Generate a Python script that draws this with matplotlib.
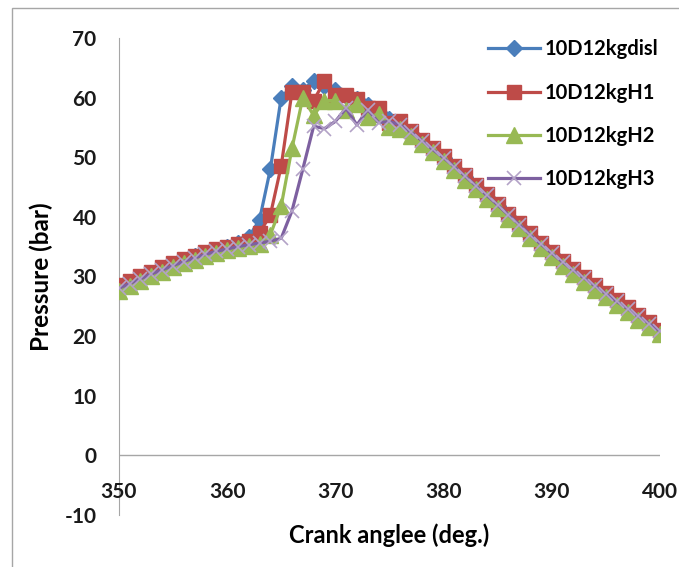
import matplotlib.pyplot as plt
import numpy as np

# crank angle (deg.)
angle = list(range(350, 401))

p_disl = [28.3, 29.0, 29.8, 30.6, 31.4, 32.1, 32.8, 33.4, 34.0, 34.5,
          35.0, 35.6, 36.6, 39.5, 48.0, 60.0, 62.0, 61.3, 62.8, 62.0,
          61.2, 60.3, 59.8, 58.8, 57.6, 56.4, 55.2, 54.0, 52.6, 51.2,
          49.8, 48.2, 46.6, 45.0, 43.4, 41.8, 40.1, 38.5, 36.8, 35.2,
          33.7, 32.2, 30.8, 29.5, 28.2, 26.9, 25.6, 24.4, 23.1, 21.9, 20.7]

p_h1 = [28.5, 29.2, 30.0, 30.8, 31.5, 32.2, 32.9, 33.5, 34.1, 34.6,
        35.0, 35.4, 36.0, 37.3, 40.3, 48.5, 61.0, 61.0, 59.5, 62.8,
        60.5, 60.5, 59.8, 58.3, 58.2, 55.8, 56.0, 54.4, 52.9, 51.6,
        50.2, 48.6, 47.0, 45.4, 43.8, 42.2, 40.5, 38.9, 37.2, 35.6,
        34.1, 32.6, 31.2, 29.9, 28.6, 27.3, 26.0, 24.8, 23.5, 22.3, 21.0]

p_h2 = [27.6, 28.4, 29.2, 30.0, 30.8, 31.5, 32.2, 32.8, 33.4, 33.9,
        34.4, 34.8, 35.1, 35.5, 37.0, 41.8, 51.5, 60.0, 57.0, 59.5,
        59.5, 58.0, 59.0, 56.8, 57.2, 55.0, 54.8, 53.6, 52.2, 50.8,
        49.4, 47.8, 46.2, 44.6, 43.0, 41.4, 39.7, 38.1, 36.4, 34.8,
        33.3, 31.8, 30.4, 29.1, 27.8, 26.5, 25.2, 24.0, 22.7, 21.5, 20.3]

p_h3 = [28.0, 28.8, 29.6, 30.4, 31.1, 31.8, 32.5, 33.1, 33.7, 34.2,
        34.6, 35.0, 35.3, 35.6, 35.9, 36.4, 41.0, 48.0, 55.2, 54.8,
        56.0, 58.2, 55.4, 58.0, 55.8, 56.0, 55.4, 54.2, 52.8, 51.3,
        49.9, 48.4, 46.8, 45.2, 43.6, 42.0, 40.3, 38.7, 37.0, 35.4,
        33.9, 32.4, 31.0, 29.7, 28.4, 27.1, 25.8, 24.6, 23.3, 22.1, 20.8]

labels = ["10D12kgdisl", "10D12kgH1", "10D12kgH2", "10D12kgH3"]

plt.rcParams['font.family'] = ['Lato', 'DejaVu Sans']
plt.rcParams['axes.unicode_minus'] = False

fig = plt.figure(figsize=(6.79, 5.67), dpi=100)
ax = fig.add_axes([0.175, 0.092, 0.797, 0.841])

# chart area border (left and top visible)
fig.add_artist(plt.Rectangle((12 / 679, -0.1), 1.2, 1 - 8 / 567 + 0.1,
                             transform=fig.transFigure, fill=False,
                             edgecolor='#a6a6a6', linewidth=1.0))

ax.plot(angle, p_disl, color='#4a7ebb', lw=2.3, marker='D', ms=8,
        label=labels[0], zorder=3)
ax.plot(angle, p_h1, color='#be4b48', lw=2.3, marker='s', ms=10,
        label=labels[1], zorder=4)
ax.plot(angle, p_h2, color='#98b954', lw=2.3, marker='^', ms=11,
        label=labels[2], zorder=5)
ax.plot(angle, p_h3, color='#7d60a0', lw=2.3, marker='x', ms=10,
        mec='#b3a2c7', mew=1.2, label=labels[3], zorder=6)

ax.set_xlim(350, 400)
ax.set_ylim(-10, 70)
ax.set_yticks(np.arange(-10, 71, 10))
ax.set_xticks(np.arange(350, 401, 10))

for s in ['top', 'right', 'bottom']:
    ax.spines[s].set_visible(False)
ax.spines['left'].set_color('#a6a6a6')
ax.axhline(0, color='#a6a6a6', lw=1.0, zorder=1)

ax.tick_params(axis='y', length=0, pad=16, labelsize=15)
ax.tick_params(axis='x', length=0, pad=0, labelsize=15)
for t in ax.get_yticklabels():
    t.set_fontweight('bold')
    t.set_color('#1a1a1a')

# x tick labels sit just below the zero line
ax.set_xticklabels([])
for a in ax.get_xticks():
    ax.text(a, -6.2, f"{a:.0f}", ha='center', va='center',
            fontsize=15, fontweight='bold', color='#1a1a1a')

ax.set_ylabel("Pressure (bar)", fontsize=17.5, fontweight='bold', labelpad=8)
ax.set_xlabel("Crank anglee (deg.)", fontsize=17, fontweight='bold',
              labelpad=6)

leg = ax.legend(loc='upper right', bbox_to_anchor=(1.03, 1.035), frameon=False,
                fontsize=14.5, handlelength=2.6, labelspacing=1.15,
                handletextpad=0.2)
for t in leg.get_texts():
    t.set_fontweight('bold')

fig.savefig("out.png", dpi=100)
